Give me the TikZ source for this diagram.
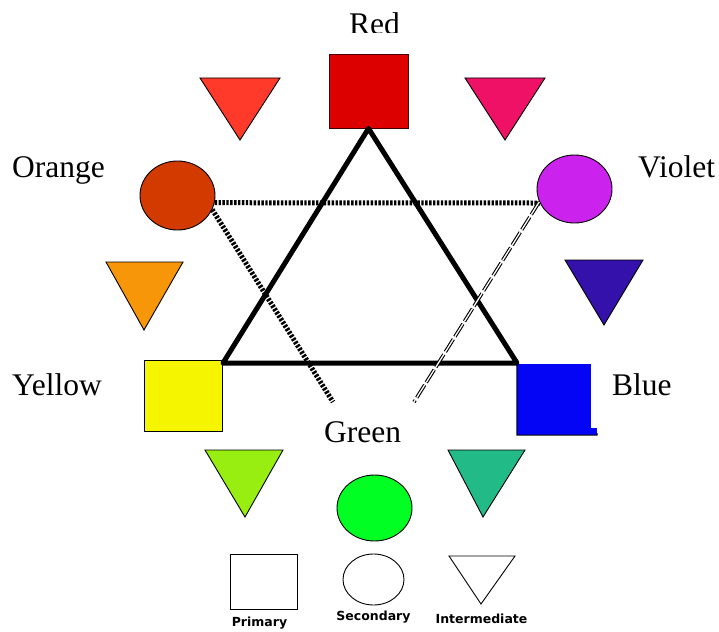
\documentclass[tikz,border=0pt]{standalone}
\usepackage{fontspec}
\setmainfont{Liberation Serif}
\newfontfamily\legendfont{DejaVu Sans}
\usetikzlibrary{shapes.geometric}
\definecolor{cRed}{HTML}{DD0000}
\definecolor{cRedOr}{HTML}{FF3A2A}
\definecolor{cMag}{HTML}{EE1166}
\definecolor{cOrange}{HTML}{D23A00}
\definecolor{cViolet}{HTML}{CC22EE}
\definecolor{cOrTri}{HTML}{F8960A}
\definecolor{cBlueVi}{HTML}{3311AA}
\definecolor{cYellow}{HTML}{F5F500}
\definecolor{cBlue}{HTML}{0505F5}
\definecolor{cYG}{HTML}{99EE11}
\definecolor{cGreen}{HTML}{00FF22}
\definecolor{cTeal}{HTML}{22BB88}
\tikzset{
  sqbox/.style={rectangle, draw=black, line width=0.9pt, inner sep=0pt},
  circbox/.style={ellipse, draw=black, line width=0.9pt, inner sep=0pt},
  tri/.style={draw=black, line width=0.9pt, line join=miter},
  lbl/.style={font=\fontsize{31.5}{36}\selectfont, inner sep=0pt, anchor=base west},
  legtxt/.style={font=\legendfont\bfseries\fontsize{12.5}{14}\selectfont, inner sep=0pt},
  hatch/.style={line width=5pt, dash pattern=on 2.4pt off 1.5pt},
  dbl/.style={line width=1.1pt, double=white, double distance=1.3pt, dash pattern=on 15pt off 3pt},
  bigtri/.style={line width=5pt, line join=round}
}
\begin{document}
\begin{tikzpicture}[x=1pt,y=-1pt]
\useasboundingbox[fill=white] (0,0) rectangle (719,631);

% Red label (bottom clipped)
\begin{scope}
\clip (0,0) rectangle (719,33);
\node[lbl] (tRed) at (349,35) {Red};
\end{scope}

% primary squares
\node[sqbox, fill=cRed, draw=black!70!cRed, minimum width=79pt, minimum height=74pt] (red) at (368.5,91) {};
\node[sqbox, fill=cYellow, minimum width=78pt, minimum height=71pt] (yellow) at (183,395.5) {};
\node[rectangle, fill=cBlue, inner sep=0pt, minimum width=74pt, minimum height=71pt] (blue) at (554,399.5) {};
\fill[cBlue] (591,428) rectangle (597,435);
\draw[line width=1pt] (blue.north west) -- (blue.south west) -- (597,435.0) -- (597,433);

% secondary circles
\node[circbox, fill=cOrange, minimum width=75pt, minimum height=69pt] (orange) at (177.5,195.5) {};
\node[circbox, fill=cViolet, minimum width=75pt, minimum height=68pt] (violet) at (574.5,189) {};
\node[circbox, fill=cGreen, minimum width=75pt, minimum height=66pt] (green) at (374.5,508) {};

% intermediate triangles
\draw[tri, fill=cRedOr] (200,78) -- (280,78) -- (240,140) -- cycle;
\draw[tri, fill=cMag] (465,78) -- (545,78) -- (505,140) -- cycle;
\draw[tri, fill=cOrTri] (106,262) -- (183,262) -- (144,330) -- cycle;
\draw[tri, fill=cBlueVi] (565,260) -- (643,260) -- (604,325) -- cycle;
\draw[tri, fill=cYG] (205,450) -- (283,450) -- (245,517) -- cycle;
\draw[tri, fill=cTeal] (448,450) -- (525,450) -- (483,517) -- cycle;

% primary triangle
\draw[bigtri] (red.south) -- (223,363) -- (517,363) -- cycle;

% secondary connectors
\coordinate (g1) at (333,402);
\coordinate (g2) at (414,402);
\draw[hatch] (orange.-11) -- (violet.202);
\draw[hatch] (orange.-22) -- (g1);
\draw[dbl] (violet.200) -- (g2);

% labels
\node[lbl] (tOrange) at (12,178) {Orange};
\node[lbl] (tViolet) at (638,177) {Violet};
\node[lbl] (tYellow) at (12,395) {Yellow};
\node[lbl] (tBlue) at (612,395) {Blue};
\node[lbl] (tGreen) at (324,442) {Green};

% legend
\node[sqbox, minimum width=67pt, minimum height=55pt] (lp) at (263.5,581.5) {};
\node[circbox, minimum width=61pt, minimum height=51pt] (ls) at (373.5,579.5) {};
\draw[tri] (449,556) -- (515,556) -- (481,604) -- cycle;
\node[legtxt] (tp) at (259.5,623) {Primary};
\node[legtxt] (ts) at (373.5,617.5) {Secondary};
\node[legtxt] (ti) at (481.5,619) {Intermediate};
\end{tikzpicture}
\end{document}
